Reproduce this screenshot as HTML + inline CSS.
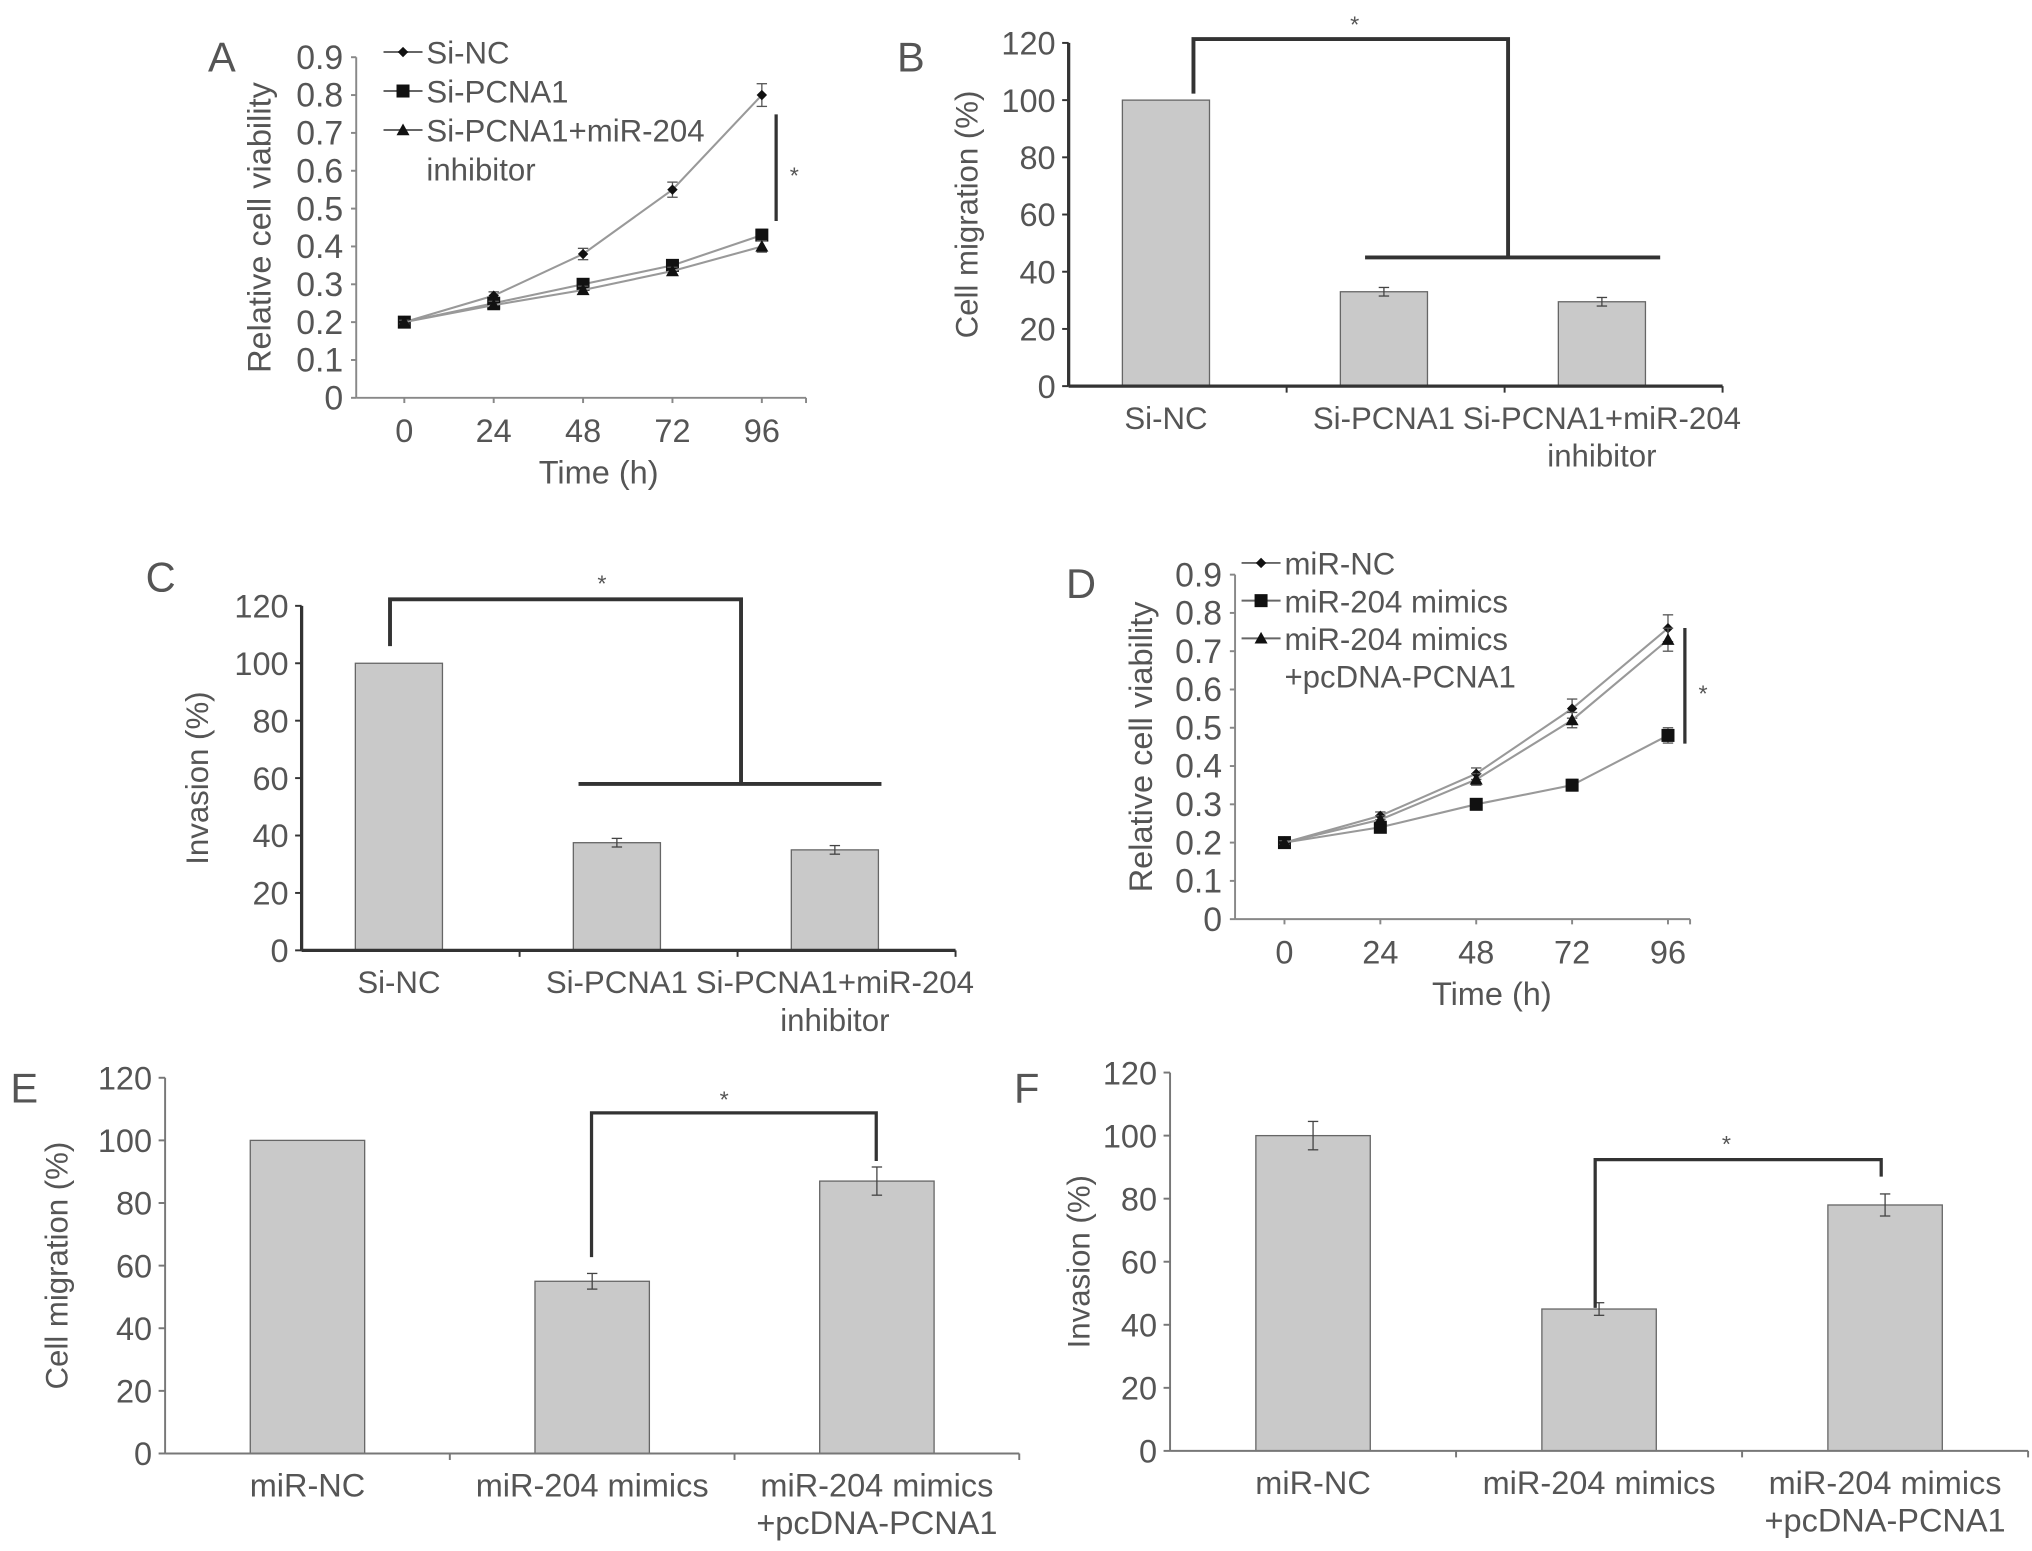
<!DOCTYPE html>
<html><head><meta charset="utf-8"><style>
html,body{margin:0;padding:0;background:#fff;}
svg{display:block;}
text{font-family:"Liberation Sans",sans-serif;fill:#555;}
</style></head><body>
<svg id="fig" width="2032" height="1551" viewBox="0 0 1563 1193" xmlns="http://www.w3.org/2000/svg"></svg>
<script>
// ---- data ----
const lineX = [0, 24, 48, 72, 96];
const lineXTicks = ["0", "24", "48", "72", "96"];
const lineYTicks = ["0", "0.1", "0.2", "0.3", "0.4", "0.5", "0.6", "0.7", "0.8", "0.9"];
const aNames = ["Si-NC", "Si-PCNA1", "Si-PCNA1+miR-204", "inhibitor"];
const aNC = [0.2, 0.27, 0.38, 0.55, 0.80];
const aNCerr = [0.005, 0.01, 0.015, 0.02, 0.03];
const aPCNA = [0.2, 0.25, 0.30, 0.35, 0.43];
const aPCNAerr = [0.005, 0.01, 0.012, 0.012, 0.015];
const aInh = [0.2, 0.245, 0.285, 0.335, 0.40];
const aInherr = [0.005, 0.01, 0.01, 0.01, 0.015];
const dNames = ["miR-NC", "miR-204 mimics", "miR-204 mimics", "+pcDNA-PCNA1"];
const dNC = [0.2, 0.27, 0.38, 0.55, 0.76];
const dNCerr = [0.005, 0.01, 0.015, 0.025, 0.035];
const dMim = [0.2, 0.24, 0.30, 0.35, 0.48];
const dMimerr = [0.005, 0.01, 0.01, 0.015, 0.02];
const dPc = [0.2, 0.26, 0.365, 0.52, 0.73];
const dPcerr = [0.005, 0.01, 0.015, 0.02, 0.03];
const barYTicks = ["0", "20", "40", "60", "80", "100", "120"];
const bcCats = ["Si-NC", "Si-PCNA1", "Si-PCNA1+miR-204"];
const bVals = [100, 33, 29.5];
const bErr = [0, 1.5, 1.5];
const cVals = [100, 37.5, 35];
const cErr = [0, 1.5, 1.5];
const efCats = ["miR-NC", "miR-204 mimics", "miR-204 mimics"];
const eVals = [100, 55, 87];
const eErr = [0, 2.5, 4.5];
const fVals = [100, 45, 78];
const fErr = [4.5, 2, 3.5];

const NS = "http://www.w3.org/2000/svg";
const svg = document.getElementById('fig');
function el(tag, attrs, parent, txt) {
  const e = document.createElementNS(NS, tag);
  for (const k in attrs) e.setAttribute(k, attrs[k]);
  if (txt !== undefined) e.textContent = txt;
  (parent || svg).appendChild(e);
  return e;
}
function txt(x, y, s, size, anchor, name, parent, extra) {
  const t = el('text', Object.assign({x: x, y: y, 'font-size': size, 'text-anchor': anchor || 'middle'}, extra || {}), parent, s);
  
  
  return t;
}
function ln(x1, y1, x2, y2, w, c, name, parent) {
  const l = el('line', {x1: x1, y1: y1, x2: x2, y2: y2, stroke: c || '#777', 'stroke-width': w || 1.5}, parent);
  
  
  return l;
}

function linePanel(cfg) {
  const g = el('g', {});
  
  
  const xs = v => cfg.x0 + (v / 96) * (cfg.x96 - cfg.x0);
  const ys = v => cfg.yb - (v / 0.9) * (cfg.yb - cfg.yt);
  ln(cfg.ax, cfg.yt, cfg.ax, cfg.yb, 1.5, '#888', 'y-axis', g);
  ln(cfg.ax, cfg.yb, cfg.axEnd, cfg.yb, 1.5, '#888', 'x-axis', g);
  lineYTicks.forEach((s, i) => {
    const v = i * 0.1;
    ln(cfg.ax - 4, ys(v), cfg.ax, ys(v), 1.5, '#888', 'y-tick', g);
    txt(cfg.ax - 10, ys(v) + 9, s, 26, 'end', 'y-tick-label', g);
  });
  lineX.forEach((v, i) => {
    ln(xs(v), cfg.yb, xs(v), cfg.yb + 4, 1.5, '#888', 'x-tick', g);
    txt(xs(v), cfg.yb + 34, lineXTicks[i], 25, 'middle', 'x-tick-label', g);
  });
  ln(cfg.axEnd, cfg.yb, cfg.axEnd, cfg.yb + 4, 1.5, '#888', 'x-tick', g);
  txt((cfg.x0 + cfg.x96) / 2 + 12, cfg.yb + 66, 'Time (h)', 25, 'middle', 'x-axis-title', g);
  txt(0, 0, 'Relative cell viability', 25, 'middle', 'y-axis-title', g,
      {transform: `translate(${cfg.ylx},${(cfg.yt + cfg.yb) / 2}) rotate(-90)`});
  txt(cfg.lx, cfg.ly, cfg.letter, 32, 'start', 'panel-label', g, {fill: '#222'});
  const markers = ['diamond', 'square', 'triangle'];
  cfg.series.forEach((s, si) => {
    const pts = lineX.map((x, i) => xs(x) + ',' + ys(s.v[i])).join(' ');
    const pl = el('polyline', {points: pts, fill: 'none', stroke: '#999', 'stroke-width': 1.6}, g);
    
    
    lineX.forEach((x, i) => {
      const cx = xs(x), cy = ys(s.v[i]), e = s.e[i];
      ln(cx, ys(s.v[i] + e), cx, ys(s.v[i] - e), 1, '#555', 'error-bar', g);
      ln(cx - 4, ys(s.v[i] + e), cx + 4, ys(s.v[i] + e), 1, '#555', 'error-cap', g);
      ln(cx - 4, ys(s.v[i] - e), cx + 4, ys(s.v[i] - e), 1, '#555', 'error-cap', g);
      drawMarker(markers[si], cx, cy, g);
    });
  });
  cfg.legend.forEach((s, i) => {
    const y = cfg.legY + i * cfg.legDY;
    if (i < 3) {
      ln(cfg.legX, y, cfg.legX + 30, y, 1.5, '#666', 'legend-line', g);
      drawMarker(markers[i], cfg.legX + 15, y, g);
    }
    txt(cfg.legX + 33, y + 9, s, 24, 'start', 'legend-entry', g);
  });
  ln(cfg.sigX, cfg.sigY1, cfg.sigX, cfg.sigY2, 2.5, '#333', 'significance-bar', g);
  txt(cfg.sigX + 14, (cfg.sigY1 + cfg.sigY2) / 2 + 12, '*', 18, 'middle', 'significance-star', g);
}
function drawMarker(type, cx, cy, g) {
  let m;
  if (type === 'square') m = el('rect', {x: cx - 5, y: cy - 5, width: 10, height: 10, fill: '#111'}, g);
  else if (type === 'diamond') m = el('polygon', {points: `${cx},${cy - 4} ${cx + 4},${cy} ${cx},${cy + 4} ${cx - 4},${cy}`, fill: '#111'}, g);
  else m = el('polygon', {points: `${cx},${cy - 5} ${cx + 5},${cy + 4} ${cx - 5},${cy + 4}`, fill: '#111'}, g);
  
  
}

function barPanel(cfg) {
  const g = el('g', {});
  
  
  const ys = v => cfg.yb - (v / 120) * (cfg.yb - cfg.yt);
  const n = cfg.vals.length;
  const step = (cfg.axEnd - cfg.ax) / n;
  const cx = i => cfg.ax + step * (i + 0.5) + (cfg.shift || 0);
  cfg.vals.forEach((v, i) => {
    const r = el('rect', {x: cx(i) - cfg.bw / 2, y: ys(v), width: cfg.bw, height: ys(0) - ys(v), fill: '#c9c9c9', stroke: '#666', 'stroke-width': 1}, g);
    
    
    const e = cfg.err[i];
    if (e > 0) {
      ln(cx(i), ys(v + e), cx(i), ys(v - e), 1, '#444', 'error-bar', g);
      ln(cx(i) - 4, ys(v + e), cx(i) + 4, ys(v + e), 1, '#444', 'error-cap', g);
      ln(cx(i) - 4, ys(v - e), cx(i) + 4, ys(v - e), 1, '#444', 'error-cap', g);
    }
    txt(cx(i), cfg.yb + 33, cfg.cats[i], cfg.cf, 'middle', 'category-label', g);
  });
  if (cfg.cat2) cfg.cat2.forEach(c => txt(cx(c.i), cfg.yb + 62, c.s, cfg.cf, 'middle', 'category-label', g));
  ln(cfg.ax, cfg.yt, cfg.ax, cfg.yb, cfg.aw, cfg.ac, 'y-axis', g);
  ln(cfg.ax, cfg.yb, cfg.axEnd, cfg.yb, cfg.aw, cfg.ac, 'x-axis', g);
  barYTicks.forEach((s, i) => {
    const v = i * 20;
    ln(cfg.ax - 5, ys(v), cfg.ax, ys(v), 1.5, cfg.ac, 'y-tick', g);
    txt(cfg.ax - 10, ys(v) + 9, s, 25, 'end', 'y-tick-label', g);
  });
  for (let i = 1; i <= n; i++) ln(cfg.ax + step * i, cfg.yb, cfg.ax + step * i, cfg.yb + 5, 1.5, cfg.ac, 'x-tick', g);
  txt(0, 0, cfg.ytitle, 24, 'middle', 'y-axis-title', g,
      {transform: `translate(${cfg.ylx},${(cfg.yt + cfg.yb) / 2}) rotate(-90)`});
  txt(cfg.lx, cfg.ly, cfg.letter, 32, 'start', 'panel-label', g, {fill: '#222'});
  const br = cfg.bracket;
  const p = el('polyline', {points: br.pts, fill: 'none', stroke: '#333', 'stroke-width': br.w}, g);
  
  
  if (br.h) ln(br.h[0], br.h[1], br.h[2], br.h[1], br.w, '#333', 'significance-bracket-base', g);
  txt(br.sx, br.sy, '*', 18, 'middle', 'significance-star', g);
}

linePanel({name: 'panel-a', letter: 'A', lx: 160, ly: 55, ax: 274, axEnd: 620, yt: 44, yb: 306, x0: 311, x96: 586, ylx: 208,
  series: [{v: aNC, e: aNCerr}, {v: aPCNA, e: aPCNAerr}, {v: aInh, e: aInherr}],
  legend: aNames, legX: 295, legY: 40, legDY: 30, sigX: 597, sigY1: 88, sigY2: 170});
linePanel({name: 'panel-d', letter: 'D', lx: 820, ly: 460, ax: 950, axEnd: 1300, yt: 442, yb: 707, x0: 988, x96: 1283, ylx: 886,
  series: [{v: dNC, e: dNCerr}, {v: dMim, e: dMimerr}, {v: dPc, e: dPcerr}],
  legend: dNames, legX: 955, legY: 433, legDY: 29, sigX: 1296, sigY1: 483, sigY2: 572});

barPanel({name: 'panel-b', letter: 'B', lx: 690, ly: 55, ax: 822, axEnd: 1325, yt: 33, yb: 297, bw: 67, shift: -9, aw: 2.5, ac: '#333', cf: 24,
  vals: bVals, err: bErr, cats: bcCats, cat2: [{i: 2, s: 'inhibitor'}], ytitle: 'Cell migration (%)', ylx: 752,
  bracket: {pts: '918,72 918,30 1160,30 1160,198', h: [1050, 198, 1277], w: 3, sx: 1042, sy: 25}});
barPanel({name: 'panel-c', letter: 'C', lx: 112, ly: 455, ax: 232, axEnd: 735, yt: 466, yb: 731, bw: 67, shift: -9, aw: 2.5, ac: '#333', cf: 24,
  vals: cVals, err: cErr, cats: bcCats, cat2: [{i: 2, s: 'inhibitor'}], ytitle: 'Invasion (%)', ylx: 160,
  bracket: {pts: '300,497 300,461 570,461 570,603', h: [445, 603, 678], w: 3, sx: 463, sy: 455}});
barPanel({name: 'panel-e', letter: 'E', lx: 8, ly: 848, ax: 127, axEnd: 784, yt: 829, yb: 1118, bw: 88, shift: 0, aw: 1.5, ac: '#777', cf: 25,
  vals: eVals, err: eErr, cats: efCats, cat2: [{i: 2, s: '+pcDNA-PCNA1'}], ytitle: 'Cell migration (%)', ylx: 52,
  bracket: {pts: '455,967 455,856 674,856 674,893', w: 2.5, sx: 557, sy: 852}});
barPanel({name: 'panel-f', letter: 'F', lx: 780, ly: 848, ax: 900, axEnd: 1560, yt: 825, yb: 1116, bw: 88, shift: 0, aw: 1.5, ac: '#777', cf: 25,
  vals: fVals, err: fErr, cats: efCats, cat2: [{i: 2, s: '+pcDNA-PCNA1'}], ytitle: 'Invasion (%)', ylx: 838,
  bracket: {pts: '1227,1006 1227,892 1447,892 1447,905', w: 2.5, sx: 1328, sy: 886}});
</script>
</body></html>
